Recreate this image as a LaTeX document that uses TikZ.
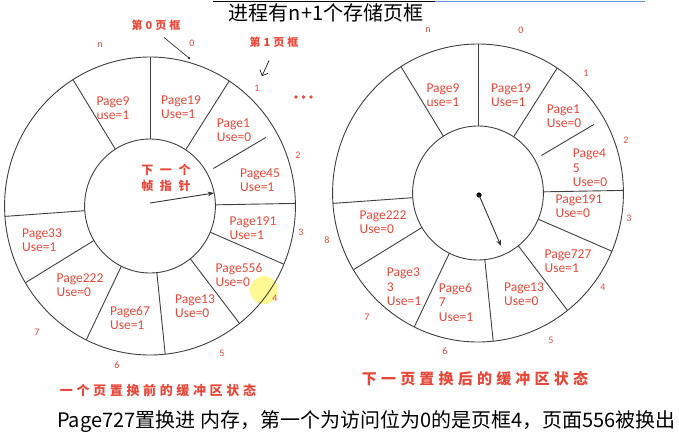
\documentclass[tikz,border=0pt]{standalone}
\usepackage{fontspec}
\setmainfont{Carlito}
\newfontfamily\cjk{Noto Sans CJK SC}
\newfontfamily\hand{Noto Sans CJK SC}[LetterSpace=28]
\newfontfamily\handwide{Noto Sans CJK SC}[LetterSpace=55]
\usetikzlibrary{arrows.meta, positioning}
\definecolor{markred}{RGB}{230,72,58}
\definecolor{barblue}{RGB}{95,150,215}

\begin{document}
\begin{tikzpicture}[
  x=1pt, y=-1pt,
  ring/.style={draw=black!75, line width=0.9pt},
  pg/.style={text=markred, align=left, inner sep=0pt,
    font=\fontsize{13.5}{14.5}\selectfont},
  num/.style={text=markred, inner sep=0pt, font=\fontsize{10}{10}\selectfont},
  handtext/.style={text=markred, inner sep=0pt, align=center,
    font=\hand\bfseries\fontsize{13}{13}\selectfont},
  ptr/.style={-{Stealth[length=2.2mm]}, line width=0.9pt, black!80}
]
\useasboundingbox (0,0) rectangle (679,442);
\fill[white] (0,0) rectangle (679,442);

% top bar of the slide
\draw[black, line width=0.8pt] (213,1) -- (435,1);
\draw[barblue, line width=1pt] (435,1) -- (645,1);

% cursor highlight
\fill[yellow!70, opacity=0.6] (264,290) circle (14);

% the two frame rings
\foreach \cx/\cy in {150/206, 478/193}{
  \begin{scope}[shift={(\cx,\cy)}, yscale=-1, xscale=0.976]
    \draw[ring] (0,0) circle (149);
    \draw[ring] (0,0) circle (67);
    \foreach \a in {90,57,122,1,-23,-52,-84,-116,-149,-176}
      \draw[ring] (\a:67) -- (\a:149);
    \draw[ring] (30:75) -- (30:137);
  \end{scope}
}

% left ring, before replacement
\node[pg] (l9) at (113,108) {Page9\\use=1};
\node[pg] (l19) at (181,107) {Page19\\Use=1};
\node[pg] (l1) at (234,130) {Page1\\Use=0};
\node[pg] (l45) at (260,180) {Page45\\Use=1};
\node[pg] (l191) at (253,228) {Page191\\Use=1};
\node[pg] (l556) at (239,275) {Page556\\Use=0};
\node[pg] (l13) at (195,306) {Page13\\Use=0};
\node[pg] (l67) at (130,318) {Page67\\Use=1};
\node[pg] (l222) at (80,285) {Page222\\Use=0};
\node[pg] (l33) at (42,240) {Page33\\Use=1};

\node[handtext, font=\handwide\bfseries\fontsize{12}{16}\selectfont] (ptrtxt) at (166,178) {下一个\\帧指针};
\coordinate (hubL) at (150,203);
\coordinate (tipL) at (214,193);
\draw[ptr] (hubL) -- (tipL);

\foreach \t/\x/\y in {n/100/45, 0/192/43, 1/257/88, 2/298/155, 3/301/232,
  4/275/298, 5/222/353, 6/117/365, 7/37/332}
  \node[num] (nl\t) at (\x,\y) {\t};

\node[handtext, font=\hand\bfseries\fontsize{11}{11}\selectfont] (frame0) at (156,25) {第0页框};
\coordinate (frame0end) at (189,58);
\draw[black!80, line width=0.7pt] ([shift={(8,7)}]frame0.south) -- (frame0end);
\fill[black!80] (frame0end) circle (1.3);

\node[handtext, font=\hand\bfseries\fontsize{11}{11}\selectfont] (frame1) at (274,42) {第1页框};
\coordinate (frame1end) at (262,76);
\draw[-{Straight Barb[length=1.6mm]}, line width=0.6pt] ([shift={(-5,13)}]frame1.south) -- (frame1end);

\foreach \i in {0,1,2}
  \fill[markred] (296+\i*7.5,97) circle (1.8);

\node[handtext] (capL) at (158,390) {一个页置换前的缓冲区状态};

% right ring, after replacement
\node[pg] (r9) at (443,95) {Page9\\use=1};
\node[pg] (r19) at (511,95) {Page19\\Use=1};
\node[pg] (r1) at (564,116) {Page1\\Use=0};
\node[pg] (r45) at (590,168) {Page4\\5\\Use=0};
\node[pg] (r191) at (579,206) {Page191\\Use=0};
\node[pg] (r727) at (568,261) {Page727\\Use=1};
\node[pg] (r13) at (524,294) {Page13\\Use=0};
\node[pg] (r67) at (456,302) {Page6\\7\\Use=1};
\node[pg] (r33) at (404,287) {Page3\\3\\Use=1};
\node[pg] (r222) at (383,222) {Page222\\Use=0};

\coordinate (hubR) at (479,195);
\coordinate (tipR) at (501,246);
\fill[black] (hubR) circle (2.6);
\draw[ptr] (hubR) -- (tipR);

\foreach \t/\x/\y in {n/428/30, 0/521/30, 1/586/73, 2/626/140, 3/629/218,
  4/603/287, 5/551/340, 6/445/351, 7/367/317, 8/327/240}
  \node[num] (nr\t) at (\x,\y) {\t};

\node[handtext, font=\hand\bfseries\fontsize{15}{15}\selectfont] (capR) at (475,379) {下一页置换后的缓冲区状态};

% title and note
\node[inner sep=0pt, font=\cjk\fontsize{20}{20}\selectfont] (title) at (326,13) {进程有n+1个存储页框};
\node[inner sep=0pt, anchor=west, font=\cjk\fontsize{20}{20}\selectfont] (note) at (57,422)
  {Page727置换进 内存，第一个为访问位为0的是页框4，页面556被换出};
\end{tikzpicture}
\end{document}
